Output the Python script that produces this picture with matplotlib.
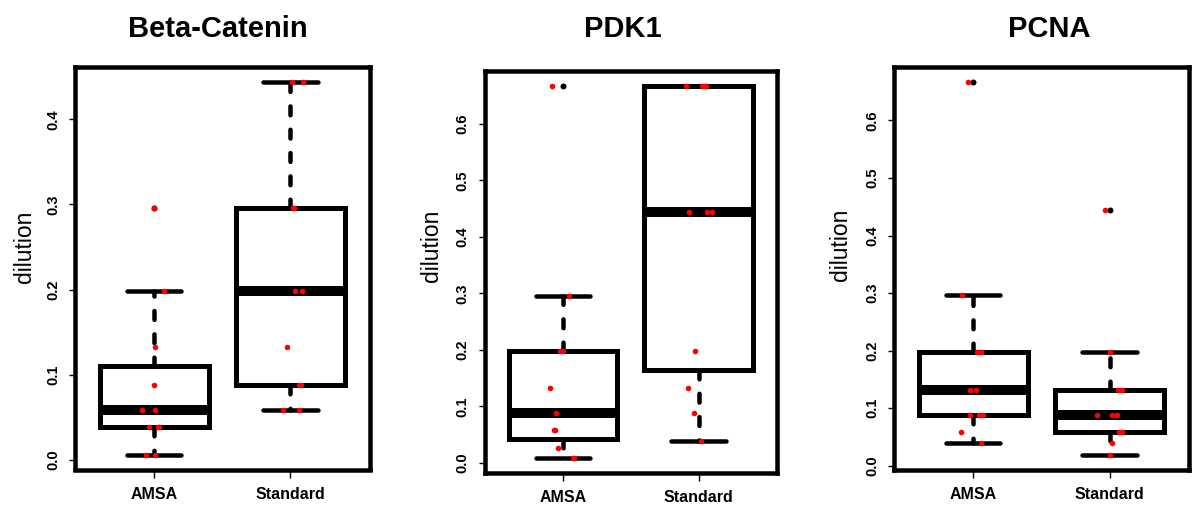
import numpy as np
import matplotlib
matplotlib.use("Agg")
import matplotlib.pyplot as plt

plt.rcParams['font.family'] = ['Liberation Sans', 'DejaVu Sans']

# ---------------- data ----------------
groups = ["AMSA", "Standard"]
titles = ["Beta-Catenin", "PDK1", "PCNA"]
ylabel = "dilution"

beta_amsa = [0.006, 0.006, 0.039, 0.039, 0.039, 0.0585, 0.0585, 0.088, 0.132, 0.198, 0.296]
beta_amsa_jit = [-0.06, 0.005, -0.04, 0.035, 0.03, -0.09, 0.01, 0.0, 0.01, 0.07, 0.0]
beta_std = [0.0585, 0.0585, 0.088, 0.088, 0.132, 0.198, 0.198, 0.296, 0.296, 0.444, 0.444]
beta_std_jit = [-0.055, 0.06, 0.06, 0.08, -0.025, 0.03, 0.085, 0.02, 0.025, 0.01, 0.09]

pdk_amsa = [0.009, 0.009, 0.026, 0.0585, 0.0585, 0.088, 0.132, 0.198, 0.198, 0.296, 0.667]
pdk_amsa_jit = [0.075, 0.082, -0.035, -0.07, -0.06, -0.055, -0.095, -0.025, 0.0, 0.04, -0.085]
pdk_std = [0.039, 0.088, 0.132, 0.198, 0.444, 0.444, 0.444, 0.667, 0.667, 0.667, 0.667]
pdk_std_jit = [0.02, -0.03, -0.08, -0.025, -0.07, 0.065, 0.1, -0.095, 0.025, 0.055, 0.045]

pcna_amsa = [0.039, 0.0585, 0.088, 0.088, 0.088, 0.132, 0.132, 0.198, 0.198, 0.296, 0.667]
pcna_amsa_jit = [0.055, -0.09, -0.02, 0.045, 0.07, -0.025, 0.02, 0.025, 0.06, -0.085, -0.04]
pcna_std = [0.019, 0.039, 0.0585, 0.0585, 0.088, 0.088, 0.088, 0.132, 0.132, 0.198, 0.444]
pcna_std_jit = [0.0, 0.02, 0.07, 0.09, -0.09, 0.02, 0.055, 0.06, 0.09, 0.0, -0.035]

yticks_list = [[0.0, 0.1, 0.2, 0.3, 0.4],
               [0.0, 0.1, 0.2, 0.3, 0.4, 0.5, 0.6],
               [0.0, 0.1, 0.2, 0.3, 0.4, 0.5, 0.6]]

panels = [
    (titles[0], [beta_amsa, beta_std], [beta_amsa_jit, beta_std_jit], yticks_list[0]),
    (titles[1], [pdk_amsa, pdk_std], [pdk_amsa_jit, pdk_std_jit], yticks_list[1]),
    (titles[2], [pcna_amsa, pcna_std], [pcna_amsa_jit, pcna_std_jit], yticks_list[2]),
]

# ---------------- layout (pixels of a 1200x527 figure) ----------------
W, H = 1200, 527
axes_px = [(75, 67, 369.5, 469.5), (484.7, 71, 777, 472.7), (894, 67, 1188.7, 469.7)]
title_cx = [217.5, 622.5, 1049.5]
title_base = 37
ylab_cx = [25, 431.5, 840.5]
ylab_cy = [247, 246, 244.5]


def fivenum(v):
    x = np.sort(np.asarray(v, float))
    n = len(x)
    n4 = np.floor((n + 3) / 2) / 2
    d = np.array([1, n4, (n + 1) / 2, n + 1 - n4, n])
    return 0.5 * (x[np.floor(d).astype(int) - 1] + x[np.ceil(d).astype(int) - 1])


def r_stats(v, label):
    v = np.asarray(v, float)
    lo, q1, med, q3, hi = fivenum(v)
    iqr = q3 - q1
    inside = v[(v >= q1 - 1.5 * iqr) & (v <= q3 + 1.5 * iqr)]
    return dict(med=med, q1=q1, q3=q3, whislo=inside.min(), whishi=inside.max(),
                fliers=v[(v < q1 - 1.5 * iqr) | (v > q3 + 1.5 * iqr)], label=label)


PX = 72.0 / 100.0  # points per pixel at dpi 100

fig = plt.figure(figsize=(W / 100, H / 100), dpi=100)

for i, (title, data, jit, yt) in enumerate(panels):
    x0, y0, x1, y1 = axes_px[i]
    ax = fig.add_axes([x0 / W, 1 - y1 / H, (x1 - x0) / W, (y1 - y0) / H])
    pos = np.arange(1, len(groups) + 1)
    stats = [r_stats(d, g) for d, g in zip(data, groups)]
    wl = 4.5 * PX
    ax.bxp(stats, positions=pos, widths=0.8, capwidths=0.4, showfliers=True,
           boxprops=dict(color='black', linewidth=5 * PX, solid_joinstyle='miter'),
           medianprops=dict(color='black', linewidth=10 * PX, solid_capstyle='butt'),
           whiskerprops=dict(color='black', linewidth=wl, linestyle=(0, (1.96, 3.22)),
                             dash_capstyle='round'),
           capprops=dict(color='black', linewidth=wl, solid_capstyle='round'),
           flierprops=dict(marker='o', markerfacecolor='black', markeredgecolor='black',
                           markersize=6 * PX, markeredgewidth=0, linestyle='none'),
           zorder=2)
    for p, d, j in zip(pos, data, jit):
        ax.plot(p + np.asarray(j), d, linestyle='none', marker='o', color='#ff0000',
                markersize=5.6 * PX, markeredgewidth=0, zorder=4)

    allv = np.concatenate([np.asarray(d, float) for d in data])
    rng = allv.max() - allv.min()
    ax.set_ylim(allv.min() - 0.04 * rng, allv.max() + 0.04 * rng)
    ax.set_xlim(0.5 - 0.04 * len(groups), len(groups) + 0.5 + 0.04 * len(groups))

    ax.set_yticks(yt)
    ax.set_yticklabels([f"{v:.1f}" for v in yt], rotation=90, va='center',
                       fontsize=10.5, fontweight='bold')
    ax.set_xticks(pos)
    ax.set_xticklabels(groups, fontsize=11.5, fontweight='bold')
    ax.tick_params(axis='y', direction='out', length=6.3 * PX, width=1.0, pad=6.3)
    ax.tick_params(axis='x', direction='out', length=7.5 * PX, width=1.0, pad=7.2)
    for s in ax.spines.values():
        s.set_linewidth(4.5 * PX)
        s.set_color('black')

    ax.set_ylabel(ylabel, fontsize=16.5, va='center')
    ax.yaxis.set_label_coords((ylab_cx[i] - x0) / (x1 - x0), (y1 - ylab_cy[i]) / (y1 - y0))

    ax.set_title(title, fontsize=21, fontweight='bold',
                 x=(title_cx[i] - x0) / (x1 - x0), y=(y1 - title_base) / (y1 - y0), pad=0)

fig.savefig("out.png", dpi=100)
